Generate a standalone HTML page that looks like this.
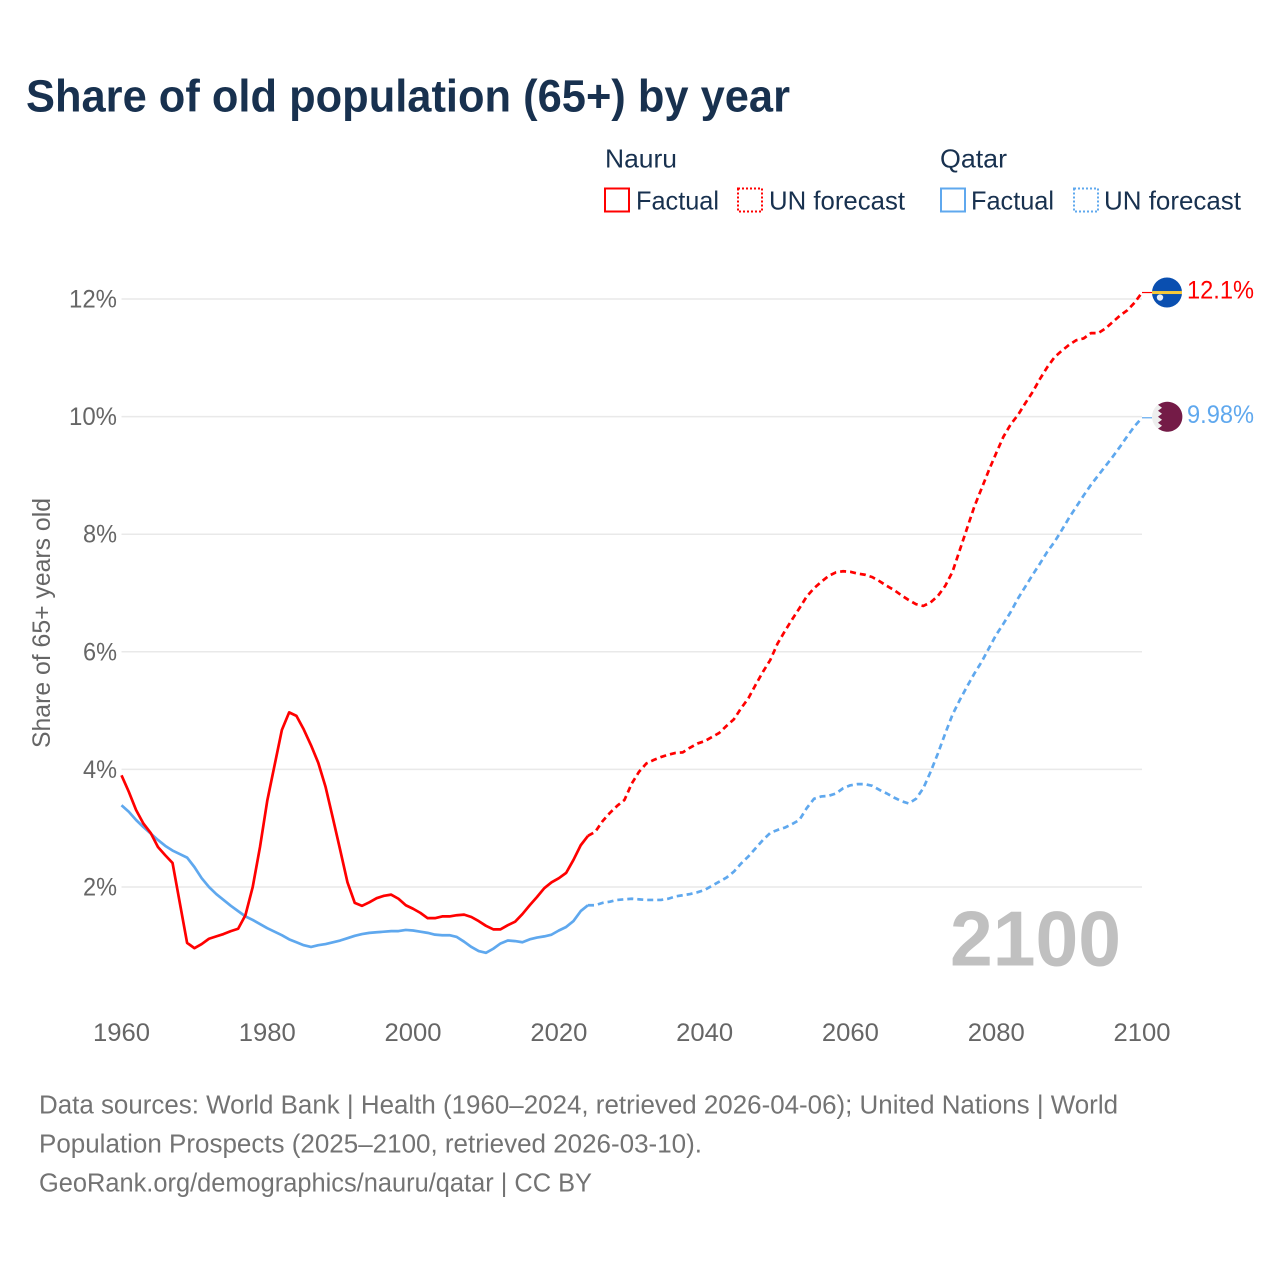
<!DOCTYPE html>
<html lang="en">
<head>
<meta charset="utf-8">
<title>Share of old population (65+) by year</title>
<style>
html,body{margin:0;padding:0;background:#fff;}
svg{display:block;font-family:"Liberation Sans",sans-serif;}
</style>
</head>
<body>
<svg id="chart" xmlns="http://www.w3.org/2000/svg" width="1280" height="1280" viewBox="0 0 1280 1280">
  <rect width="1280" height="1280" fill="#ffffff"/>
  <text x="26" y="111.5" font-size="45" font-weight="700" fill="#18314f" textLength="764" lengthAdjust="spacingAndGlyphs">Share of old population (65+) by year</text>

  <g font-size="26" fill="#18314f">
    <text x="605" y="167.5" textLength="72" lengthAdjust="spacingAndGlyphs">Nauru</text>
    <text x="940" y="167.5" textLength="67" lengthAdjust="spacingAndGlyphs">Qatar</text>
    <rect x="605" y="188.5" width="24" height="23" fill="none" stroke="#ff0000" stroke-width="2"/>
    <text x="636" y="209.5" textLength="83" lengthAdjust="spacingAndGlyphs">Factual</text>
    <rect x="738" y="188.5" width="24" height="23" fill="none" stroke="#ff0000" stroke-width="2" stroke-dasharray="2 2"/>
    <text x="769" y="209.5" textLength="136" lengthAdjust="spacingAndGlyphs">UN forecast</text>
    <rect x="941" y="188.5" width="24" height="23" fill="none" stroke="#5fa8ee" stroke-width="2"/>
    <text x="971" y="209.5" textLength="83" lengthAdjust="spacingAndGlyphs">Factual</text>
    <rect x="1074" y="188.5" width="24" height="23" fill="none" stroke="#5fa8ee" stroke-width="2" stroke-dasharray="2 2"/>
    <text x="1104" y="209.5" textLength="137" lengthAdjust="spacingAndGlyphs">UN forecast</text>
  </g>

  <text transform="translate(50,748) rotate(-90)" font-size="25" fill="#666666" textLength="250" lengthAdjust="spacingAndGlyphs">Share of 65+ years old</text>

  <g id="grid"></g>
  <g id="y-ticks"></g>
  <g id="x-ticks"></g>

  <text x="950" y="965.5" font-size="78" font-weight="700" fill="#c0c0c0" textLength="171" lengthAdjust="spacingAndGlyphs">2100</text>

  <g id="series"></g>

  <g id="flag-nauru">
    <circle r="15" fill="#0a4fb0"/>
    <rect x="-15" y="-1.5" width="30" height="3" fill="#f5c93a"/>
    <circle cx="-7" cy="5" r="3.2" fill="#e6eef8"/>
  </g>
  <g id="flag-qatar">
    <circle r="15" fill="#eeeeee"/>
    <path d="M-5,-14 L-9,-12 L-5,-9 L-9,-6 L-5,-3 L-9,0 L-5,3 L-9,6 L-5,9 L-9,12 L-5,14 A15,15 0 1 0 -5,-14 Z" fill="#741b47"/>
  </g>

  <text id="label-nauru" x="1187" font-size="25" fill="#ff0000" textLength="67" lengthAdjust="spacingAndGlyphs"></text>
  <text id="label-qatar" x="1187" font-size="25" fill="#5fa8ee" textLength="67" lengthAdjust="spacingAndGlyphs"></text>

  <g font-size="25.5" fill="#737373">
    <text x="39" y="1113.5" textLength="1079" lengthAdjust="spacingAndGlyphs">Data sources: World Bank | Health (1960–2024, retrieved 2026-04-06); United Nations | World</text>
    <text x="39" y="1152.5" textLength="663" lengthAdjust="spacingAndGlyphs">Population Prospects (2025–2100, retrieved 2026-03-10).</text>
    <text x="39" y="1191.5" textLength="553" lengthAdjust="spacingAndGlyphs">GeoRank.org/demographics/nauru/qatar | CC BY</text>
  </g>
</svg>
<script>
const yTicks = [2, 4, 6, 8, 10, 12];
const yTickLabels = ["2%", "4%", "6%", "8%", "10%", "12%"];
const xTicks = [1960, 1980, 2000, 2020, 2040, 2060, 2080, 2100];
const xTickLabels = ["1960", "1980", "2000", "2020", "2040", "2060", "2080", "2100"];
const factualStartYear = 1960;
const forecastStartYear = 2024;
const nauruFactual = [
  3.90,3.62,3.31,3.08,2.92,2.68,2.54,2.41,1.73,1.05,
  0.96,1.03,1.12,1.16,1.20,1.25,1.29,1.52,2.00,2.68,
  3.47,4.07,4.67,4.97,4.91,4.68,4.41,4.11,3.70,3.17,
  2.63,2.08,1.73,1.68,1.74,1.81,1.85,1.87,1.80,1.69,
  1.63,1.56,1.47,1.47,1.50,1.50,1.52,1.53,1.49,1.42,
  1.34,1.28,1.28,1.35,1.41,1.54,1.69,1.83,1.98,2.08,
  2.15,2.24,2.46,2.71,2.87
];
const nauruForecast = [
  2.87,2.94,3.12,3.26,3.38,3.48,3.76,3.96,4.10,4.16,
  4.21,4.25,4.28,4.29,4.37,4.44,4.48,4.55,4.62,4.74,
  4.85,5.04,5.21,5.44,5.66,5.86,6.14,6.35,6.55,6.74,
  6.94,7.08,7.19,7.29,7.35,7.37,7.36,7.33,7.31,7.27,
  7.20,7.12,7.05,6.96,6.88,6.81,6.78,6.84,6.95,7.12,
  7.36,7.73,8.10,8.47,8.78,9.09,9.38,9.66,9.87,10.03,
  10.23,10.42,10.64,10.84,11.01,11.12,11.22,11.30,11.33,11.42,
  11.42,11.50,11.61,11.72,11.81,11.94,12.11
];
const qatarFactual = [
  3.39,3.28,3.14,3.02,2.91,2.80,2.70,2.62,2.56,2.50,
  2.34,2.15,2.00,1.88,1.78,1.68,1.59,1.50,1.44,1.37,
  1.30,1.24,1.18,1.11,1.06,1.01,0.98,1.01,1.03,1.06,
  1.09,1.13,1.17,1.20,1.22,1.23,1.24,1.25,1.25,1.27,
  1.26,1.24,1.22,1.19,1.18,1.18,1.15,1.07,0.98,0.91,
  0.88,0.95,1.04,1.09,1.08,1.06,1.11,1.14,1.16,1.19,
  1.26,1.32,1.42,1.59,1.69
];
const qatarForecast = [
  1.69,1.69,1.73,1.75,1.78,1.79,1.80,1.79,1.78,1.78,
  1.78,1.80,1.84,1.86,1.88,1.91,1.95,2.02,2.09,2.16,
  2.26,2.40,2.52,2.66,2.80,2.92,2.97,3.01,3.07,3.14,
  3.34,3.50,3.54,3.55,3.59,3.68,3.73,3.75,3.75,3.72,
  3.65,3.59,3.52,3.46,3.42,3.50,3.68,3.96,4.27,4.61,
  4.93,5.18,5.41,5.63,5.83,6.06,6.29,6.48,6.68,6.91,
  7.11,7.31,7.50,7.70,7.87,8.07,8.28,8.47,8.66,8.84,
  9.00,9.16,9.32,9.49,9.67,9.84,9.98
];
const nauruEndLabel = "12.1%";
const qatarEndLabel = "9.98%";

const SVG_NS = "http://www.w3.org/2000/svg";
function xScale(year) { return 121.5 + (year - 1960) * (1142 - 121.5) / 140; }
function yScale(value) { return 887 - (value - 2) * 58.8; }
function pathFrom(values, startYear) {
  return values.map(function (v, i) {
    return (i ? "L" : "M") + xScale(startYear + i).toFixed(2) + "," + yScale(v).toFixed(2);
  }).join(" ");
}
function addLine(name, values, startYear, color, dashed) {
  const el = document.createElementNS(SVG_NS, "path");
  
  
  el.setAttribute("d", pathFrom(values, startYear));
  el.setAttribute("fill", "none");
  el.setAttribute("stroke", color);
  el.setAttribute("stroke-width", "2.7");
  el.setAttribute("stroke-linejoin", "round");
  if (dashed) el.setAttribute("stroke-dasharray", "6 4");
  document.getElementById("series").appendChild(el);
}
function addConnector(name, value, color) {
  const el = document.createElementNS(SVG_NS, "line");
  
  
  el.setAttribute("x1", xScale(2100));
  el.setAttribute("x2", 1152);
  el.setAttribute("y1", yScale(value));
  el.setAttribute("y2", yScale(value));
  el.setAttribute("stroke", color);
  el.setAttribute("stroke-width", "1.2");
  document.getElementById("series").appendChild(el);
}

yTicks.forEach(function (t, i) {
  const line = document.createElementNS(SVG_NS, "line");
  
  
  line.setAttribute("x1", xScale(1960));
  line.setAttribute("x2", xScale(2100));
  line.setAttribute("y1", yScale(t));
  line.setAttribute("y2", yScale(t));
  line.setAttribute("stroke", "#e9e9e9");
  line.setAttribute("stroke-width", "1.5");
  document.getElementById("grid").appendChild(line);

  const label = document.createElementNS(SVG_NS, "text");
  
  
  label.setAttribute("x", 117);
  label.setAttribute("y", yScale(t) + 8.5);
  label.setAttribute("text-anchor", "end");
  label.setAttribute("font-size", "25");
  label.setAttribute("fill", "#666666");
  label.setAttribute("textLength", yTickLabels[i].length === 3 ? 48 : 34);
  label.setAttribute("lengthAdjust", "spacingAndGlyphs");
  label.textContent = yTickLabels[i];
  document.getElementById("y-ticks").appendChild(label);
});

xTicks.forEach(function (t, i) {
  const label = document.createElementNS(SVG_NS, "text");
  
  
  label.setAttribute("x", xScale(t));
  label.setAttribute("y", 1041);
  label.setAttribute("text-anchor", "middle");
  label.setAttribute("font-size", "25");
  label.setAttribute("fill", "#666666");
  label.setAttribute("textLength", 57);
  label.setAttribute("lengthAdjust", "spacingAndGlyphs");
  label.textContent = xTickLabels[i];
  document.getElementById("x-ticks").appendChild(label);
});

addLine("qatar-factual-line", qatarFactual, factualStartYear, "#5fa8ee", false);
addLine("qatar-forecast-line", qatarForecast, forecastStartYear, "#5fa8ee", true);
addLine("nauru-factual-line", nauruFactual, factualStartYear, "#ff0000", false);
addLine("nauru-forecast-line", nauruForecast, forecastStartYear, "#ff0000", true);

const nauruLast = nauruForecast[nauruForecast.length - 1];
const qatarLast = qatarForecast[qatarForecast.length - 1];
addConnector("nauru-end-connector", nauruLast, "#ff0000");
addConnector("qatar-end-connector", qatarLast, "#5fa8ee");
document.getElementById("flag-nauru").setAttribute("transform", "translate(1167," + yScale(nauruLast) + ")");
document.getElementById("flag-qatar").setAttribute("transform", "translate(1167," + (yScale(qatarLast) - 1) + ")");
const labelNauru = document.getElementById("label-nauru");
labelNauru.setAttribute("y", yScale(nauruLast) + 6);
labelNauru.textContent = nauruEndLabel;
const labelQatar = document.getElementById("label-qatar");
labelQatar.setAttribute("y", yScale(qatarLast) + 5);
labelQatar.textContent = qatarEndLabel;
</script>
</body>
</html>
